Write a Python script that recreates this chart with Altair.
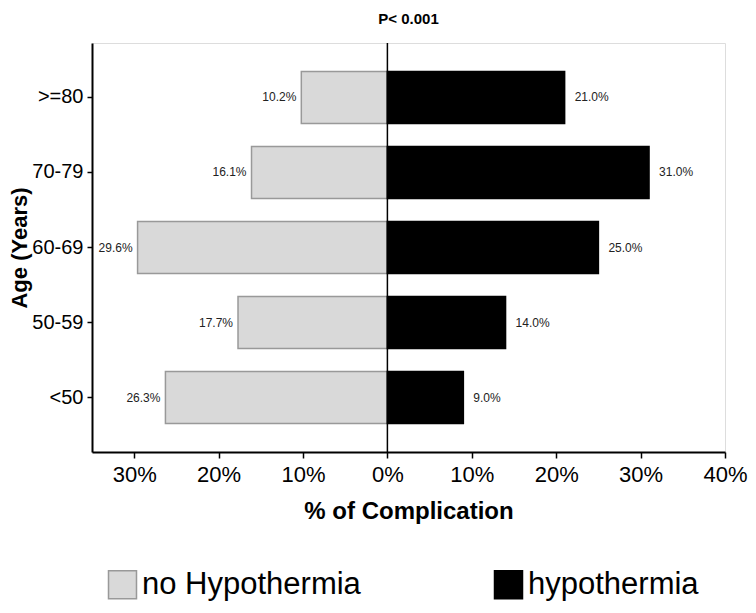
import altair as alt
import pandas as pd

ages = [">=80", "70-79", "60-69", "50-59", "<50"]
no_hypo = [10.2, 16.1, 29.6, 17.7, 26.3]
hypo = [21.0, 31.0, 25.0, 14.0, 9.0]
groups = ["no Hypothermia", "hypothermia"]
x_ticks = [-30, -20, -10, 0, 10, 20, 30, 40]

rows = []
for a, v in zip(ages, no_hypo):
    rows.append({"age": a, "group": groups[0], "value": -v})
for a, v in zip(ages, hypo):
    rows.append({"age": a, "group": groups[1], "value": v})
df = pd.DataFrame(rows)

FONT = "Liberation Sans"

y_enc = alt.Y(
    "age:N",
    sort=ages,
    scale=alt.Scale(paddingInner=0.307, paddingOuter=0.38),
    axis=alt.Axis(
        title="Age (Years)",
        titleFontSize=22,
        titleFont=FONT,
        titleFontWeight="bold",
        titleColor="#000",
        titlePadding=0,
        labelFontSize=20,
        labelFont=FONT,
        labelColor="#000",
        labelPadding=4,
        domainColor="#000",
        domainWidth=2,
        tickColor="#000",
        tickWidth=1.5,
        tickSize=5,
        grid=False,
    ),
)

x_enc = alt.X(
    "value:Q",
    scale=alt.Scale(domain=[-35, 40], nice=False, zero=False),
    axis=alt.Axis(
        title="% of Complication",
        titleFontSize=24,
        titleFont=FONT,
        titleFontWeight="bold",
        titleColor="#000",
        titlePadding=14,
        values=x_ticks,
        labelExpr="abs(datum.value) + '%'",
        labelFontSize=22,
        labelFont=FONT,
        labelColor="#000",
        labelPadding=6,
        labelFlush=False,
        labelOverlap=False,
        domainColor="#000",
        domainWidth=2,
        tickColor="#000",
        tickWidth=1.5,
        tickSize=6,
        grid=False,
    ),
)

legend_props = dict(
    title=None,
    orient="none",
    legendX=15,
    legendY=526,
    direction="horizontal",
    symbolType="square",
    symbolSize=784,
    symbolStrokeWidth=1.5,
    labelFontSize=31,
    labelFont=FONT,
    labelColor="#000",
    labelOffset=4,
    labelLimit=400,
    columnPadding=130,
)

base = alt.Chart(df)

bars = base.mark_bar(strokeWidth=1.5).encode(
    x=x_enc,
    y=y_enc,
    fill=alt.Fill(
        "group:N",
        sort=groups,
        scale=alt.Scale(domain=groups, range=["#d9d9d9", "#000000"]),
        legend=alt.Legend(**legend_props),
    ),
    stroke=alt.Stroke(
        "group:N",
        sort=groups,
        scale=alt.Scale(domain=groups, range=["#999999", "#000000"]),
        legend=alt.Legend(**legend_props),
    ),
)

labels_left = base.transform_filter(
    alt.datum.value < 0
).transform_calculate(
    lab="format(abs(datum.value), '.1f') + '%'"
).mark_text(align="right", baseline="middle", dx=-5, fontSize=12, font=FONT, color="#222").encode(
    x="value:Q", y=alt.Y("age:N", sort=ages), text="lab:N"
)

labels_right = base.transform_filter(
    alt.datum.value > 0
).transform_calculate(
    lab="format(abs(datum.value), '.1f') + '%'"
).mark_text(align="left", baseline="middle", dx=10, fontSize=12, font=FONT, color="#222").encode(
    x="value:Q", y=alt.Y("age:N", sort=ages), text="lab:N"
)

zero_rule = alt.Chart(pd.DataFrame({"z": [0]})).mark_rule(color="#000", strokeWidth=1.5).encode(
    x="z:Q"
)

chart = (
    alt.layer(bars, zero_rule, labels_left, labels_right)
    .properties(
        width=633,
        height=409,
        title=alt.TitleParams("P< 0.001", fontSize=15, font=FONT, fontWeight="bold", color="#000", anchor="middle", offset=15),
        autosize=alt.AutoSizeParams(type="none"),
        padding={"left": 84, "top": 35, "right": 23, "bottom": 152},
    )
    .configure_view(stroke=None)
    .configure(background="white")
)

chart.save("out.html", embed_options={"renderer": "svg", "actions": False})
